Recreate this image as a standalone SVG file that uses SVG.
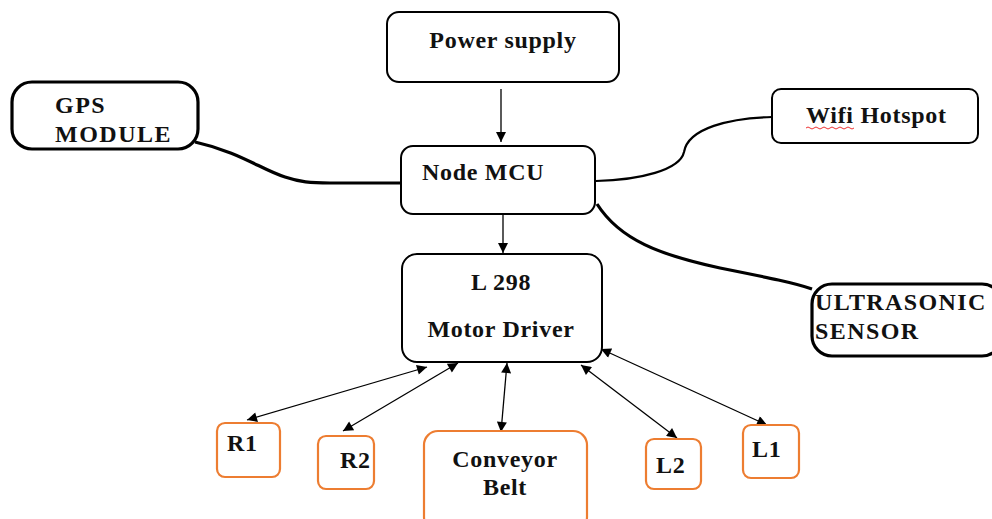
<svg xmlns="http://www.w3.org/2000/svg" width="992" height="519" viewBox="0 0 992 519">
<style>
text{font-family:"Liberation Serif","Times New Roman",serif;font-weight:bold;font-size:24px;fill:#111;letter-spacing:0.7px}
.box{fill:#fff;stroke:#000;stroke-width:2}
.thick{fill:#fff;stroke:#000;stroke-width:3.2}
.obox{fill:#fff;stroke:#ED7D31;stroke-width:2.2}
.wire{fill:none;stroke:#000}
.arr{fill:none;stroke:#000;stroke-width:1.3;marker-end:url(#ah);marker-start:url(#ah)}
.one{fill:none;stroke:#000;stroke-width:1.3;marker-end:url(#ah)}
.c{text-anchor:middle}
</style>
<defs>
<marker id="ah" viewBox="0 0 10 10" refX="10" refY="5" markerWidth="12" markerHeight="10" markerUnits="userSpaceOnUse" orient="auto-start-reverse">
<path d="M0,0 L10,5 L0,10 z" fill="#000"/>
</marker>
</defs>
<g id="connectors">
<path class="one" d="M501,89 L501,142"/>
<path class="one" d="M503,215 L503,253"/>
<path class="wire" stroke-width="3.2" d="M195,142 C240,152 262,170 285,177 C300,182 310,183 330,183 L401,183"/>
<path class="wire" stroke-width="2.2" d="M596,181 C640,180 680,170 684,152 C688,128 730,118 772,117"/>
<path class="wire" stroke-width="3.2" d="M597,204 C620,240 660,255 720,268 C770,278 795,283 812,289"/>
<path class="arr" d="M247,420 L427,367"/>
<path class="arr" d="M343,431 L458,363"/>
<path class="arr" d="M501,432 L507,363"/>
<path class="arr" d="M677,438 L581,365"/>
<path class="arr" d="M767,425 L601,349"/>
</g>
<g id="power">
<rect class="box" x="387" y="12" width="232" height="70" rx="12"/>
<text class="c" x="503" y="48">Power supply</text>
</g>
<g id="nodemcu">
<rect class="box" x="401" y="146" width="194" height="68" rx="12"/>
<text x="422" y="180">Node MCU</text>
</g>
<g id="gps">
<rect class="thick" x="12" y="82" width="186" height="67" rx="20"/>
<text x="55" y="113" style="letter-spacing:1.5px">GPS</text>
<text x="55" y="142" style="letter-spacing:1.5px">MODULE</text>
</g>
<g id="wifi">
<rect class="box" x="772" y="89" width="206" height="54" rx="9"/>
<text x="806" y="123">Wifi Hotspot</text>
<path d="M806,128 q2,-2 4,0 t4,0 t4,0 t4,0 t4,0 t4,0 t4,0 t4,0 t4,0 t4,0 t4,0 t4,0" fill="none" stroke="#e33" stroke-width="1"/>
</g>
<g id="ultrasonic">
<rect class="thick" x="812" y="284" width="190" height="72" rx="20"/>
<text x="815" y="310" style="letter-spacing:1.4px">ULTRASONIC</text>
<text x="815" y="339" style="letter-spacing:1.4px">SENSOR</text>
</g>
<g id="l298">
<rect class="box" x="402" y="254" width="200" height="108" rx="15" stroke-width="2.5"/>
<text class="c" x="501" y="290">L 298</text>
<text class="c" x="501" y="337">Motor Driver</text>
</g>
<g id="r1">
<rect class="obox" x="217" y="423" width="63" height="54" rx="8"/>
<text x="227" y="451">R1</text>
</g>
<g id="r2">
<rect class="obox" x="318" y="436" width="56" height="53" rx="8"/>
<text x="340" y="468">R2</text>
</g>
<g id="conveyor">
<rect class="obox" x="424" y="431" width="163" height="100" rx="14"/>
<text class="c" x="505" y="467">Conveyor</text>
<text class="c" x="505" y="495">Belt</text>
</g>
<g id="l2">
<rect class="obox" x="646" y="439" width="55" height="50" rx="8"/>
<text x="656" y="473">L2</text>
</g>
<g id="l1">
<rect class="obox" x="743" y="425" width="56" height="53" rx="8"/>
<text x="752" y="457">L1</text>
</g>
</svg>
